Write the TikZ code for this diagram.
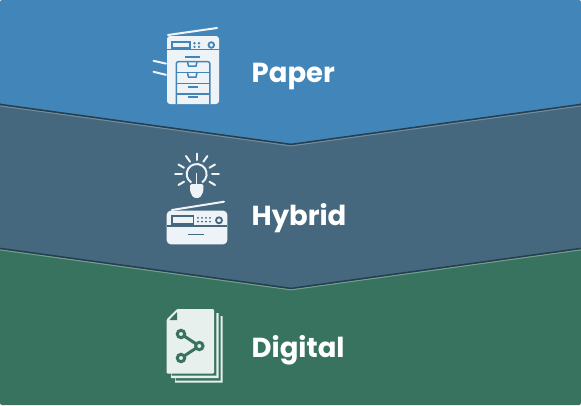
\documentclass[tikz,border=0pt]{standalone}
\usepackage{fontspec}
\setmainfont{Poppins}
\definecolor{bandblue}{HTML}{4285B9}
\definecolor{bandslate}{HTML}{46687F}
\definecolor{bandgreen}{HTML}{37735E}
\definecolor{edgedark}{HTML}{263F50}
\definecolor{edgelight}{HTML}{6F8C9C}
\definecolor{icon}{HTML}{EEF3F7}
\definecolor{icongreen}{HTML}{E8F0EE}
\tikzset{
  label text/.style={text=white,font=\fontsize{27.5}{30}\selectfont\bfseries,anchor=west,inner sep=0pt},
  ic/.style={draw=icon,line width=2pt,line cap=round},
  cut/.style={line width=1.5pt},
}
\begin{document}
\begin{tikzpicture}[x=1pt,y=-1pt]
\useasboundingbox (0,0) rectangle (581,405);
% bands
\fill[bandgreen,rounded corners=2pt] (0,230) -- (581,230) -- (581,405) -- (0,405) -- cycle;
\fill[bandslate] (0,90) -- (581,90) -- (581,248) -- (291,288) -- (0,248) -- cycle;
\fill[bandblue,rounded corners=2pt] (0,0) -- (581,0) -- (581,104) -- (291,144) -- (0,104) -- cycle;
\draw[edgelight,line width=1.2pt] (0,105.8) -- (291,145.8) -- (581,105.8);
\draw[edgedark,line width=1.5pt] (0,104.4) -- (291,144.4) -- (581,104.4);
\draw[bandgreen!70!white,line width=1.2pt] (0,249.8) -- (291,289.8) -- (581,249.8);
\draw[edgedark,line width=1.5pt] (0,248.4) -- (291,288.4) -- (581,248.4);
% copier
\draw[ic] (168,35) -- (217,28);
\draw[ic] (153.5,60.8) -- (166,63.6);
\draw[ic] (153.5,71.8) -- (166,74.8);
\fill[icon,rounded corners=3pt] (167,104) -- (167,36) -- (219,36) -- (219,104) -- cycle;
\begin{scope}[bandblue]
\draw[cut] (167,49.5) -- (219,49.5);
\draw[line width=1.2pt] (172,42) rectangle (190,48);
\foreach \a/\b in {194.5/43.2,199/43.2,194.5/46.8,199/46.8}
  \fill (\a,\b) circle (1.3pt);
\draw[line width=1.8pt] (211.3,45) circle (2.8pt);
\draw[cut] (185,57) -- (200,57);
\draw[cut,rounded corners=2pt] (176.3,104) -- (176.3,61.7) -- (209.8,61.7) -- (209.8,104);
\draw[cut] (177,72.5) -- (209,72.5);
\draw[cut] (177,83.5) -- (209,83.5);
\draw[cut] (177,93.8) -- (209,93.8);
\draw[cut] (187.5,62) -- (188.5,66) -- (196,66) -- (197,62);
\draw[cut] (187.5,73) -- (188.5,77) -- (196,77) -- (197,73);
\draw[cut] (187.5,87) -- (198,87);
\draw[cut] (187.5,97) -- (198,97);
\end{scope}
% bulb
\draw[ic] (196.7,153.5) -- (196.7,160);
\draw[ic] (175.2,174.3) -- (182,174.3);
\draw[ic] (212,174.3) -- (218.8,174.3);
\draw[ic] (186,156) -- (190,161.7);
\draw[ic] (207.4,156) -- (203.4,161.7);
\draw[ic] (178.5,164.5) -- (184,167.7);
\draw[ic] (215,164.5) -- (209.5,167.7);
\draw[ic] (178.5,185) -- (184,181.7);
\draw[ic] (215,185) -- (209.5,181.7);
\draw[icon,line width=2pt] (191.3,182.5) arc[start angle=237.6,end angle=-57.6,radius=10pt];
\fill[icon,rounded corners=1.5pt] (190,184) -- (203.4,184) -- (203.4,191.5) -- (200,197.8) -- (193.4,197.8) -- (190,191.5) -- cycle;
\draw[icon,line width=1.5pt] (196.7,173) -- (196.7,185);
% scanner
\draw[ic] (172,210) -- (224,201.7);
\fill[icon,rounded corners=4pt] (166.7,244.3) -- (166.7,210.7) -- (227.3,210.7) -- (227.3,244.3) -- cycle;
\begin{scope}[bandslate]
\draw[cut] (166.7,226.2) -- (227.3,226.2);
\draw[line width=1.5pt] (172,216) rectangle (193.5,224);
\foreach \a in {198,202,206,210}{
  \fill (\a,217.8) circle (1pt);
  \fill (\a,221.6) circle (1pt);}
\draw[line width=1.8pt] (219,220.3) circle (3pt);
\draw[cut] (188.3,234.3) -- (204,234.3);
\end{scope}
% pages
\fill[icongreen] (176,316) -- (222.7,316) -- (222.7,382.5) -- (175,382.5) -- cycle;
\fill[bandgreen] (176,316) -- (220.7,316) -- (220.7,380.5) -- (175.5,380.5) -- cycle;
\fill[icongreen] (172,313) -- (218.5,313) -- (218.5,378) -- (171,378) -- cycle;
\fill[bandgreen] (172,313) -- (216.3,313) -- (216.3,375.6) -- (171.5,375.6) -- cycle;
\fill[icongreen,rounded corners=1pt] (177,309) -- (214,309) -- (214,373.5) -- (166.7,373.5) -- (166.7,319.5) -- cycle;
\fill[bandgreen] (169.3,320) -- (177.2,320) -- (177.2,311.8) -- cycle;
\begin{scope}[bandgreen,line width=3pt]
\draw (181,334) -- (199.3,346) -- (181,358);
\draw[fill=icongreen] (181,334) circle (3.7pt);
\draw[fill=icongreen] (199.3,346) circle (3.7pt);
\draw[fill=icongreen] (181,358) circle (3.7pt);
\end{scope}
% labels
\node[label text] (paper) at (251.5,76.5) {Paper};
\node[label text] (hybrid) at (251.5,218.2) {Hybrid};
\node[label text] (digital) at (251.5,350.7) {Digital};
\end{tikzpicture}
\end{document}
